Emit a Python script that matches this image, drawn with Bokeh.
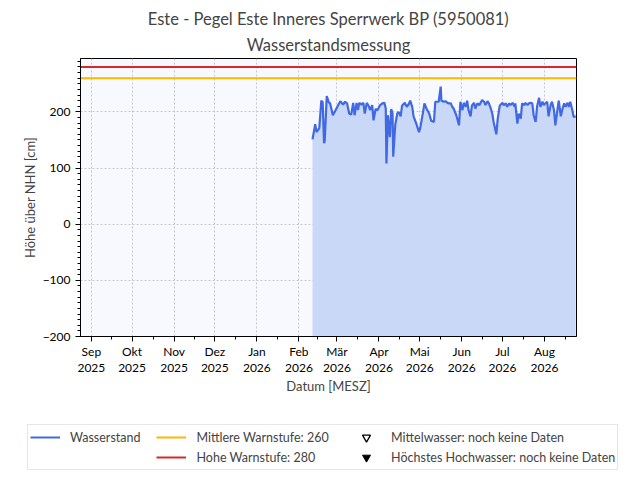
import pandas as pd
from bokeh.plotting import figure
from bokeh.layouts import column
from bokeh.models import FixedTicker, Legend, LegendItem, Range1d, Title
from bokeh.embed import file_html
from bokeh.resources import INLINE

# Wasserstand Este, Pegel Inneres Sperrwerk BP
zeit = [
    "2026-02-11", "2026-02-13", "2026-02-14", "2026-02-16", "2026-02-17 12:00",
    "2026-02-18 12:00", "2026-02-19 12:00", "2026-02-20", "2026-02-21 12:00", "2026-02-23",
    "2026-02-24", "2026-02-26", "2026-02-28", "2026-03-01 12:00", "2026-03-03 12:00",
    "2026-03-05 12:00", "2026-03-07", "2026-03-08 12:00", "2026-03-10", "2026-03-11 12:00",
    "2026-03-13", "2026-03-14", "2026-03-15 12:00", "2026-03-16 12:00", "2026-03-17 12:00",
    "2026-03-19", "2026-03-20 12:00", "2026-03-21 12:00", "2026-03-23", "2026-03-24 12:00",
    "2026-03-25 12:00", "2026-03-27", "2026-03-28", "2026-03-29 12:00", "2026-03-31",
    "2026-04-01 12:00", "2026-04-03 12:00", "2026-04-05", "2026-04-06", "2026-04-06 12:00",
    "2026-04-07 12:00", "2026-04-09", "2026-04-10", "2026-04-11", "2026-04-11 12:00",
    "2026-04-13", "2026-04-14 12:00", "2026-04-15 12:00", "2026-04-17", "2026-04-18",
    "2026-04-20", "2026-04-21 12:00", "2026-04-23", "2026-04-24", "2026-04-25 12:00",
    "2026-04-26 12:00", "2026-04-28 12:00", "2026-04-30 12:00", "2026-05-01 12:00", "2026-05-03 12:00",
    "2026-05-04 12:00", "2026-05-06", "2026-05-08", "2026-05-09 12:00", "2026-05-11 12:00",
    "2026-05-12 12:00", "2026-05-14", "2026-05-15", "2026-05-16 12:00", "2026-05-17",
    "2026-05-19", "2026-05-20", "2026-05-21 12:00", "2026-05-22 12:00", "2026-05-24",
    "2026-05-25", "2026-05-26", "2026-05-28", "2026-05-30", "2026-05-31",
    "2026-06-01 12:00", "2026-06-02 12:00", "2026-06-04", "2026-06-05", "2026-06-06",
    "2026-06-07 12:00", "2026-06-08 12:00", "2026-06-10", "2026-06-11", "2026-06-12 12:00",
    "2026-06-14", "2026-06-16", "2026-06-17 12:00", "2026-06-18 12:00", "2026-06-20",
    "2026-06-21", "2026-06-22", "2026-06-23 12:00", "2026-06-24 12:00", "2026-06-26 12:00",
    "2026-06-27 12:00", "2026-06-29", "2026-07-01", "2026-07-02", "2026-07-03 12:00",
    "2026-07-04 12:00", "2026-07-06", "2026-07-07", "2026-07-08 12:00", "2026-07-10",
    "2026-07-10 12:00", "2026-07-12", "2026-07-13", "2026-07-14 12:00", "2026-07-15 12:00",
    "2026-07-17", "2026-07-18", "2026-07-19 12:00", "2026-07-20 12:00", "2026-07-22",
    "2026-07-23", "2026-07-24", "2026-07-25 12:00", "2026-07-26 12:00", "2026-07-28",
    "2026-07-29", "2026-07-30 12:00", "2026-07-31 12:00", "2026-08-02", "2026-08-03",
    "2026-08-04", "2026-08-05 12:00", "2026-08-06 12:00", "2026-08-08", "2026-08-09",
    "2026-08-10 12:00", "2026-08-11 12:00", "2026-08-13", "2026-08-14", "2026-08-15 12:00",
    "2026-08-16 12:00", "2026-08-18", "2026-08-19", "2026-08-20", "2026-08-21 12:00",
    "2026-08-22 12:00", "2026-08-24",
]
wasserstand = [
    151, 178, 164, 171, 220, 217, 144, 148, 228, 217,
    215, 194, 203, 210, 219, 213, 218, 215, 197, 195,
    216, 194, 216, 203, 216, 213, 216, 197, 216, 210,
    203, 212, 185, 205, 203, 211, 215, 216, 206, 108,
    194, 155, 205, 197, 120, 177, 197, 200, 192, 211,
    216, 209, 214, 220, 209, 192, 179, 164, 172, 200,
    215, 206, 197, 184, 182, 218, 218, 218, 245, 220,
    218, 219, 216, 215, 215, 209, 206, 194, 176, 218,
    203, 216, 209, 220, 203, 192, 211, 216, 206, 215,
    212, 221, 218, 212, 219, 215, 209, 197, 182, 160,
    187, 211, 216, 212, 215, 209, 215, 212, 216, 209,
    215, 179, 197, 188, 215, 212, 216, 212, 215, 216,
    215, 194, 182, 209, 225, 209, 218, 212, 216, 218,
    192, 212, 218, 203, 176, 203, 220, 192, 203, 215,
    209, 216, 209, 218, 203, 191, 192,
]

mittlere_warnstufe = 260
hohe_warnstufe = 280

monate = ["Sep", "Okt", "Nov", "Dez", "Jan", "Feb", "Mär", "Apr", "Mai", "Jun", "Jul", "Aug"]
jahre = ["2025"] * 4 + ["2026"] * 8
monat_start = pd.date_range("2025-09-01", "2026-08-01", freq="MS")

y_ticks = [-200, -100, 0, 100, 200]
y_labels = ["\u2212200", "\u2212100", "0", "100", "200"]

x_start = pd.Timestamp("2025-08-24")
x_end = pd.Timestamp("2026-08-24 14:00")
y_start, y_end = -200, 295

FONT = "Lato"
BLUE, ORANGE, RED = "#4169e1", "#fbb900", "#d62a2a"
NBSP = "\u00a0"

t = pd.to_datetime(zeit, format="mixed")

p = figure(frame_width=496, frame_height=278, x_axis_type="datetime",
           x_range=Range1d(x_start, x_end), y_range=Range1d(y_start, y_end),
           output_backend="svg", toolbar_location=None,
           min_border_left=80, min_border_right=64, min_border_top=58, min_border_bottom=84)

p.background_fill_color = "#f8f8ff"
p.border_fill_color = "white"
p.outline_line_color = "black"
p.outline_line_width = 1

p.title.text = "Este - Pegel Este Inneres Sperrwerk BP (5950081)"
p.title.align = "center"
p.title.text_font = FONT
p.title.text_font_size = "16.5px"
p.title.text_font_style = "normal"
p.title.standoff = 0
p.add_layout(Title(text="Wasserstandsmessung", align="center", standoff=8,
                   text_font=FONT, text_font_size="16.5px", text_font_style="normal"), "above")

p.varea(x=t, y1=y_start, y2=wasserstand, fill_color="#c9d8f6")
p.line(t, wasserstand, line_color=BLUE, line_width=2.2)
p.line([x_start, x_end], [mittlere_warnstufe] * 2, line_color=ORANGE, line_width=2)
p.line([x_start, x_end], [hohe_warnstufe] * 2, line_color=RED, line_width=2)

# x axis: months, minor ticks halfway
ms = [ts.value // 10**6 for ts in monat_start]
halb = [ts.value // 10**6 for ts in pd.date_range("2025-08-01", "2026-09-01", freq="MS")]
minor = [(a + b) / 2 for a, b in zip(halb[:-1], halb[1:])]
p.xaxis.ticker = FixedTicker(ticks=ms, minor_ticks=minor)
p.xaxis.major_label_overrides = {m: f"{mon}\n{j}" for m, mon, j in zip(ms, monate, jahre)}
p.yaxis.ticker = FixedTicker(ticks=y_ticks, minor_ticks=list(range(-200, 300, 10)))
p.yaxis.major_label_overrides = dict(zip(y_ticks, y_labels))

p.xaxis.axis_label = "Datum [MESZ]"
p.yaxis.axis_label = "Höhe über NHN [cm]"
for ax in (p.xaxis, p.yaxis):
    ax.axis_label_text_font = FONT
    ax.axis_label_text_font_size = "13px"
    ax.axis_label_text_font_style = "normal"
    ax.major_label_text_font = FONT
    ax.major_label_text_font_size = "12px"
    ax.major_label_text_color = "black"
    ax.axis_line_color = "black"
    ax.major_tick_line_color = "black"
    ax.minor_tick_line_color = "black"
    ax.major_tick_in = 0
    ax.major_tick_out = 5
    ax.minor_tick_in = 0
    ax.minor_tick_out = 3
p.xaxis.major_label_standoff = 2
p.xaxis.major_label_text_line_height = 1.1
p.xaxis.axis_label_standoff = 0
p.yaxis.axis_label_standoff = 2

p.xgrid.ticker = FixedTicker(ticks=ms)
p.ygrid.ticker = FixedTicker(ticks=y_ticks)
p.grid.grid_line_color = "#c8c8c8"
p.grid.grid_line_dash = "2 2"

# legend strip below the chart (series without data yet: "noch keine Daten")
lg = figure(width=640, height=60, output_backend="svg", toolbar_location=None,
            x_range=Range1d(0, 1), y_range=Range1d(0, 1),
            x_axis_location=None, y_axis_location=None,
            min_border_left=0, min_border_right=0, min_border_top=0, min_border_bottom=0)
if hasattr(lg, "frame_align"):
    lg.frame_align = False
lg.outline_line_color = None
lg.grid.visible = False
leer = [float("nan")]
r_wst = lg.line(x=leer, y=leer, line_color=BLUE, line_width=2)
r_mw = lg.line(x=leer, y=leer, line_color=ORANGE, line_width=2)
r_hw = lg.line(x=leer, y=leer, line_color=RED, line_width=2)
r_mittel = lg.scatter(x=leer, y=leer, marker="inverted_triangle", fill_color="white",
                      line_color="black", line_width=1.3)
r_hhw = lg.scatter(x=leer, y=leer, marker="inverted_triangle", fill_color="black", line_color="black")
r_blank = lg.scatter(x=leer, y=leer, alpha=0)

legend = Legend(items=[
    LegendItem(label="Wasserstand" + NBSP * 5, renderers=[r_wst]),
    LegendItem(label=f"Mittlere Warnstufe: {mittlere_warnstufe}" + NBSP * 7, renderers=[r_mw]),
    LegendItem(label="Mittelwasser: noch keine Daten", renderers=[r_mittel]),
    LegendItem(label="", renderers=[r_blank]),
    LegendItem(label=f"Hohe Warnstufe: {hohe_warnstufe}", renderers=[r_hw]),
    LegendItem(label="Höchstes Hochwasser: noch keine Daten", renderers=[r_hhw]),
], orientation="horizontal", ncols=3, location=(27, 10), margin=0)
legend.label_text_font = FONT
legend.label_text_font_size = "12.5px"
legend.glyph_width = 30
legend.glyph_height = 20
legend.label_standoff = 10
legend.spacing = 0
legend.padding = 2
legend.border_line_color = "#cccccc"
legend.background_fill_color = "white"
lg.add_layout(legend, "center")

open("out.html", "w").write(file_html(column(p, lg), INLINE))
